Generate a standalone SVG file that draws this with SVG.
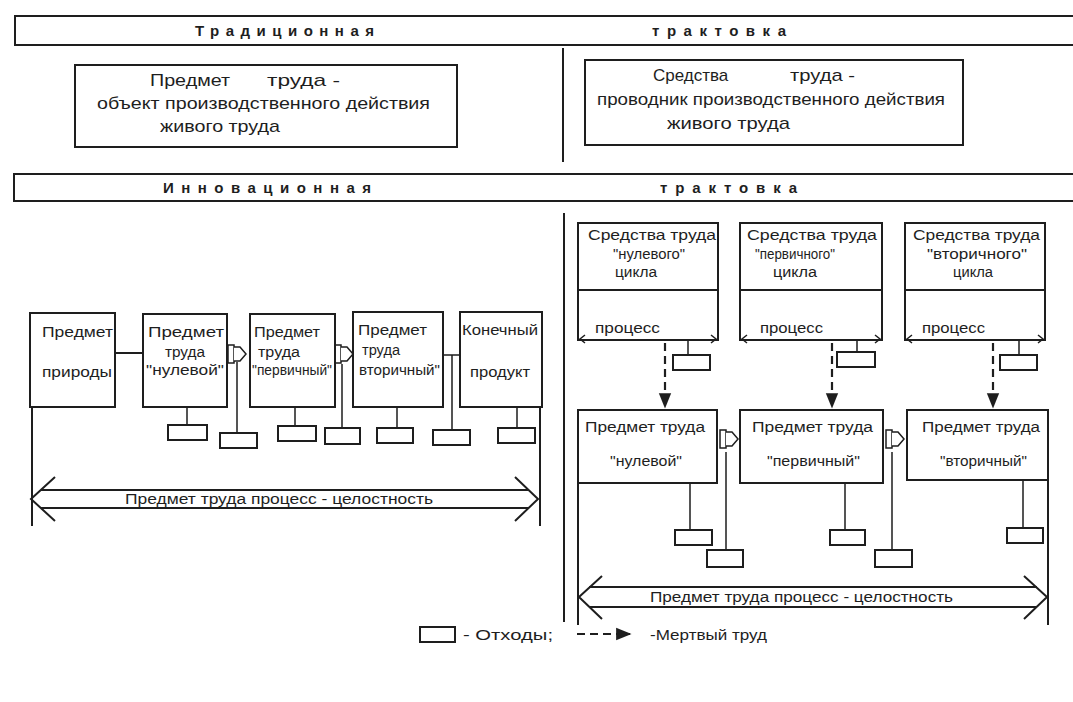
<svg xmlns="http://www.w3.org/2000/svg" width="1073" height="702" viewBox="0 0 1073 702">
<defs>
<style>
.ln{fill:none;stroke:#1e1e1e;stroke-width:2}
.bx{fill:#fff;stroke:#1e1e1e;stroke-width:2}
.th{fill:none;stroke:#1e1e1e;stroke-width:1.5}
.ds{fill:none;stroke:#1e1e1e;stroke-width:2.2;stroke-dasharray:8 5}
.t{font-family:"Liberation Sans",Arial,sans-serif;fill:#1e1e1e}
.h{font-size:15px;font-weight:bold;letter-spacing:6px}
.m{font-size:17px}
.s{font-size:14px}
.w{fill:#fff;stroke:#1e1e1e;stroke-width:2}
</style>
<marker id="ah" viewBox="0 0 10 10" refX="9" refY="5" markerWidth="7" markerHeight="7" orient="auto">
<path d="M0,1 L10,5 L0,9 z" fill="#1e1e1e"/>
</marker>
<g id="valve">
<rect x="0" y="-9" width="6" height="18" fill="#fff" stroke="#1e1e1e" stroke-width="1.5"/>
<path d="M6,-7 H12 L18,0 L12,7 H6" fill="#fff" stroke="#1e1e1e" stroke-width="1.5"/>
</g>
</defs>
<rect width="1073" height="702" fill="#fff"/>

<g id="header-traditional">
<path class="ln" d="M14,16 H1073 M14,45 H1073 M15,16 V45"/>
<text class="t h" x="195" y="36" textLength="185" lengthAdjust="spacing">Традиционная</text>
<text class="t h" x="652" y="36" textLength="140" lengthAdjust="spacing">трактовка</text>
</g>
<g id="divider"><path class="ln" d="M563,48 V162"/></g>

<g id="trad-object">
<rect class="bx" x="75" y="65" width="382" height="82"/>
<text class="t m" x="150" y="86" textLength="80" lengthAdjust="spacingAndGlyphs">Предмет</text>
<text class="t m" x="267" y="86" textLength="73" lengthAdjust="spacingAndGlyphs">труда -</text>
<text class="t m" x="97" y="109" textLength="333" lengthAdjust="spacingAndGlyphs">объект производственного действия</text>
<text class="t m" x="160" y="132" textLength="120" lengthAdjust="spacingAndGlyphs">живого труда</text>
</g>
<g id="trad-means">
<rect class="bx" x="585" y="60" width="378" height="85"/>
<text class="t m" x="653" y="81">Средства</text>
<text class="t m" x="790" y="81" textLength="65" lengthAdjust="spacingAndGlyphs">труда -</text>
<text class="t m" x="597" y="105" textLength="348" lengthAdjust="spacingAndGlyphs">проводник производственного действия</text>
<text class="t m" x="667" y="129" textLength="123" lengthAdjust="spacingAndGlyphs">живого  труда</text>
</g>

<g id="header-innovative">
<path class="ln" d="M13,174 H1073 M13,201 H1073 M14,174 V201"/>
<text class="t h" x="163" y="193" textLength="214" lengthAdjust="spacing">Инновационная</text>
<text class="t h" x="660" y="193" textLength="143" lengthAdjust="spacing">трактовка</text>
</g>

<g id="connectors">
<path class="ln" d="M32,407 V526 M540,407 V526"/>
<path class="ln" d="M115,353 H143"/>
<path class="th" d="M187,407 V425 M237,362 V433 M295,407 V426 M342,364 V428 M397,407 V428 M443,355 H460 M452,355 V430 M517,407 V428"/>
<use href="#valve" x="228" y="354"/>
<use href="#valve" x="335" y="354"/>
<path class="ln" d="M55,477 L31,499 L55,521 M515,477 L538,499 L515,521 M41,490 H528 M41,508 H528"/>
<path class="ln" d="M564,213 V622 M578,483 V625 M1048,480 V625"/>
<path class="ds" d="M665,291 V407" marker-end="url(#ah)"/>
<path class="ds" d="M832,291 V407" marker-end="url(#ah)"/>
<path class="ds" d="M993,291 V407" marker-end="url(#ah)"/>
<path class="th" d="M688,290 V355 M857,290 V352 M1019,290 V355"/>
<path class="th" d="M690,483 V530 M845,483 V530 M1023,480 V528 M726,452 V550 M892,452 V550"/>
<use href="#valve" x="720" y="439"/>
<use href="#valve" x="886" y="439"/>
<path class="ln" d="M602,576 L579,597 L602,619 M1024,576 L1047,597 L1024,619 M589,587 H1037 M589,607 H1037"/>
<path class="ds" d="M577,634 H630" stroke-width="1.6" stroke-dasharray="7 4" marker-end="url(#ah)"/>
</g>

<g id="nature">
<rect class="bx" x="30" y="313" width="85" height="94"/>
<text class="t s" x="42" y="337" textLength="71" lengthAdjust="spacingAndGlyphs">Предмет</text>
<text class="t s" x="42" y="377" textLength="70" lengthAdjust="spacingAndGlyphs">природы</text>
</g>
<g id="zero">
<rect class="bx" x="143" y="314" width="84" height="93"/>
<text class="t s" x="148" y="337" textLength="76" lengthAdjust="spacingAndGlyphs">Предмет</text>
<text class="t s" x="165" y="357" textLength="40" lengthAdjust="spacingAndGlyphs">труда</text>
<text class="t s" x="146" y="375" textLength="78" lengthAdjust="spacingAndGlyphs">"нулевой"</text>
</g>
<g id="primary">
<rect class="bx" x="250" y="314" width="85" height="93"/>
<text class="t s" x="254" y="337" textLength="66" lengthAdjust="spacingAndGlyphs">Предмет</text>
<text class="t s" x="258" y="357" textLength="42" lengthAdjust="spacingAndGlyphs">труда</text>
<text class="t s" x="252" y="375" textLength="80" lengthAdjust="spacingAndGlyphs">"первичный"</text>
</g>
<g id="secondary">
<rect class="bx" x="353" y="312" width="90" height="95"/>
<text class="t s" x="358" y="335" textLength="69" lengthAdjust="spacingAndGlyphs">Предмет</text>
<text class="t s" x="362" y="355" textLength="38" lengthAdjust="spacingAndGlyphs">труда</text>
<text class="t s" x="359" y="375" textLength="81" lengthAdjust="spacingAndGlyphs">вторичный"</text>
</g>
<g id="final">
<rect class="bx" x="460" y="312" width="82" height="95"/>
<text class="t s" x="462" y="335" textLength="76" lengthAdjust="spacingAndGlyphs">Конечный</text>
<text class="t s" x="470" y="377" textLength="60" lengthAdjust="spacingAndGlyphs">продукт</text>
</g>
<g id="left-waste">
<rect class="w" x="168" y="425" width="39" height="15"/>
<rect class="w" x="220" y="433" width="37" height="15"/>
<rect class="w" x="278" y="426" width="38" height="15"/>
<rect class="w" x="325" y="428" width="35" height="16"/>
<rect class="w" x="377" y="428" width="36" height="15"/>
<rect class="w" x="433" y="430" width="37" height="15"/>
<rect class="w" x="498" y="428" width="37" height="15"/>
</g>
<g id="left-whole">
<text class="t s" x="125" y="504" textLength="308" lengthAdjust="spacingAndGlyphs">Предмет труда процесс - целостность</text>
</g>

<g id="means-zero">
<rect class="bx" x="578" y="223" width="140" height="117"/>
<path class="ln" d="M578,290 H718"/>
<path class="th" d="M585,335 L580,339 L585,343 M711,335 L716,339 L711,343"/>
<text class="t s" x="588" y="240" textLength="128" lengthAdjust="spacingAndGlyphs">Средства труда</text>
<text class="t s" x="613" y="259" textLength="72" lengthAdjust="spacingAndGlyphs">"нулевого"</text>
<text class="t s" x="615" y="277" textLength="42" lengthAdjust="spacingAndGlyphs">цикла</text>
<text class="t s" x="595" y="333" textLength="65" lengthAdjust="spacingAndGlyphs">процесс</text>
</g>
<g id="means-primary">
<rect class="bx" x="740" y="223" width="142" height="117"/>
<path class="ln" d="M740,290 H882"/>
<path class="th" d="M747,335 L742,339 L747,343 M875,335 L880,339 L875,343"/>
<text class="t s" x="747" y="240" textLength="130" lengthAdjust="spacingAndGlyphs">Средства труда</text>
<text class="t s" x="755" y="259" textLength="80" lengthAdjust="spacingAndGlyphs">"первичного"</text>
<text class="t s" x="773" y="277" textLength="44" lengthAdjust="spacingAndGlyphs">цикла</text>
<text class="t s" x="760" y="333" textLength="63" lengthAdjust="spacingAndGlyphs">процесс</text>
</g>
<g id="means-secondary">
<rect class="bx" x="905" y="223" width="140" height="117"/>
<path class="ln" d="M905,290 H1045"/>
<path class="th" d="M912,335 L907,339 L912,343 M1038,335 L1043,339 L1038,343"/>
<text class="t s" x="913" y="240" textLength="127" lengthAdjust="spacingAndGlyphs">Средства труда</text>
<text class="t s" x="927" y="259" textLength="100" lengthAdjust="spacingAndGlyphs">"вторичного"</text>
<text class="t s" x="953" y="277" textLength="40" lengthAdjust="spacingAndGlyphs">цикла</text>
<text class="t s" x="922" y="333" textLength="63" lengthAdjust="spacingAndGlyphs">процесс</text>
</g>

<g id="object-zero">
<rect class="bx" x="578" y="410" width="139" height="73"/>
<text class="t s" x="585" y="432" textLength="120" lengthAdjust="spacingAndGlyphs">Предмет труда</text>
<text class="t s" x="610" y="466" textLength="72" lengthAdjust="spacingAndGlyphs">"нулевой"</text>
</g>
<g id="object-primary">
<rect class="bx" x="740" y="410" width="143" height="73"/>
<text class="t s" x="752" y="432" textLength="121" lengthAdjust="spacingAndGlyphs">Предмет труда</text>
<text class="t s" x="767" y="466" textLength="93" lengthAdjust="spacingAndGlyphs">"первичный"</text>
</g>
<g id="object-secondary">
<rect class="bx" x="907" y="410" width="141" height="70"/>
<text class="t s" x="922" y="432" textLength="118" lengthAdjust="spacingAndGlyphs">Предмет труда</text>
<text class="t s" x="940" y="466" textLength="87" lengthAdjust="spacingAndGlyphs">"вторичный"</text>
</g>
<g id="right-waste">
<rect class="w" x="673" y="355" width="37" height="15"/>
<rect class="w" x="837" y="352" width="38" height="15"/>
<rect class="w" x="1000" y="355" width="37" height="15"/>
<rect class="w" x="675" y="530" width="37" height="15"/>
<rect class="w" x="830" y="530" width="35" height="15"/>
<rect class="w" x="1007" y="528" width="36" height="15"/>
<rect class="w" x="707" y="550" width="36" height="17"/>
<rect class="w" x="875" y="550" width="37" height="17"/>
</g>
<g id="right-whole">
<text class="t s" x="650" y="602" textLength="303" lengthAdjust="spacingAndGlyphs">Предмет труда процесс - целостность</text>
</g>

<g id="legend">
<rect class="w" x="420" y="627" width="35" height="15"/>
<text class="t s" x="463" y="640" textLength="90" lengthAdjust="spacingAndGlyphs">- Отходы;</text>
<text class="t s" x="650" y="640" textLength="117" lengthAdjust="spacingAndGlyphs">-Мертвый труд</text>
</g>
</svg>
